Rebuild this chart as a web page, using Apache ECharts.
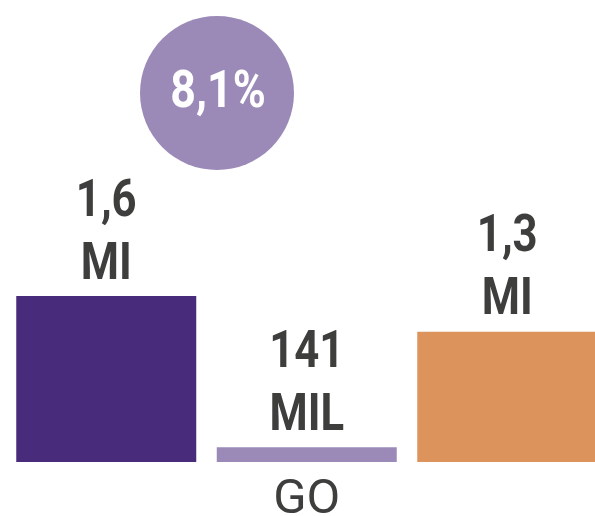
<!DOCTYPE html>
<html>
<head>
<meta charset="utf-8">
<script src="https://cdn.jsdelivr.net/npm/echarts@6/dist/echarts.min.js"></script>
<style>
html,body{margin:0;padding:0;background:#fff;}
#chart{width:595px;height:516px;}
</style>
</head>
<body>
<div id="chart"></div>
<script>
// Data
const categories = ['', 'GO', ''];
const values = [1580000, 141000, 1240000];
const valueLabels = ['1,6\nMI', '141\nMIL', '1,3\nMI'];
const barColors = ['#482c7b', '#9b8ab8', '#dc935c'];
const badgeText = '8,1%';

const FONT = 'Roboto, "DejaVu Sans", sans-serif';
const TEXT = '#3e3e3c';
const SQUEEZE = 0.84;

const chart = echarts.init(document.getElementById('chart'), null, {renderer: 'canvas'});
chart.setOption({
  animation: false,
  backgroundColor: '#ffffff',
  grid: {left: 6, width: 601.5, top: 0, bottom: 54, containLabel: false, outerBoundsMode: 'none'},
  xAxis: {
    type: 'category',
    data: categories,
    axisLine: {show: false},
    axisTick: {show: false},
    axisLabel: {
      color: TEXT,
      fontFamily: FONT,
      fontSize: 49,
      fontWeight: 'normal',
      margin: 14
    }
  },
  yAxis: {
    type: 'value',
    min: 0,
    max: 4400000,
    show: false,
    splitLine: {show: false}
  },
  series: [{
    type: 'bar',
    barWidth: 180,
    data: values.map((v, i) => ({
      value: v,
      itemStyle: {color: barColors[i]}
    }))
  }, {
    type: 'custom',
    silent: true,
    data: values.map((v, i) => [i, v]),
    renderItem: function (params, api) {
      const p = api.coord([api.value(0), api.value(1)]);
      return {
        type: 'text',
        x: p[0],
        y: p[1] + 1,
        scaleX: SQUEEZE,
        style: {
          text: valueLabels[params.dataIndex],
          fontFamily: FONT,
          fontWeight: 'bold',
          fontSize: 52,
          lineHeight: 63,
          fill: TEXT,
          align: 'center',
          verticalAlign: 'bottom'
        }
      };
    }
  }],
  graphic: [{
    type: 'group',
    x: 217,
    y: 93,
    children: [{
      type: 'circle',
      shape: {cx: 0, cy: 0, r: 77},
      style: {fill: '#9b8ab8'}
    }, {
      type: 'text',
      x: 1,
      y: 1,
      scaleX: 0.86,
      style: {
        text: badgeText,
        fill: '#ffffff',
        fontFamily: FONT,
        fontWeight: 'bold',
        fontSize: 52,
        align: 'center',
        verticalAlign: 'middle'
      }
    }]
  }]
});
</script>
</body>
</html>
